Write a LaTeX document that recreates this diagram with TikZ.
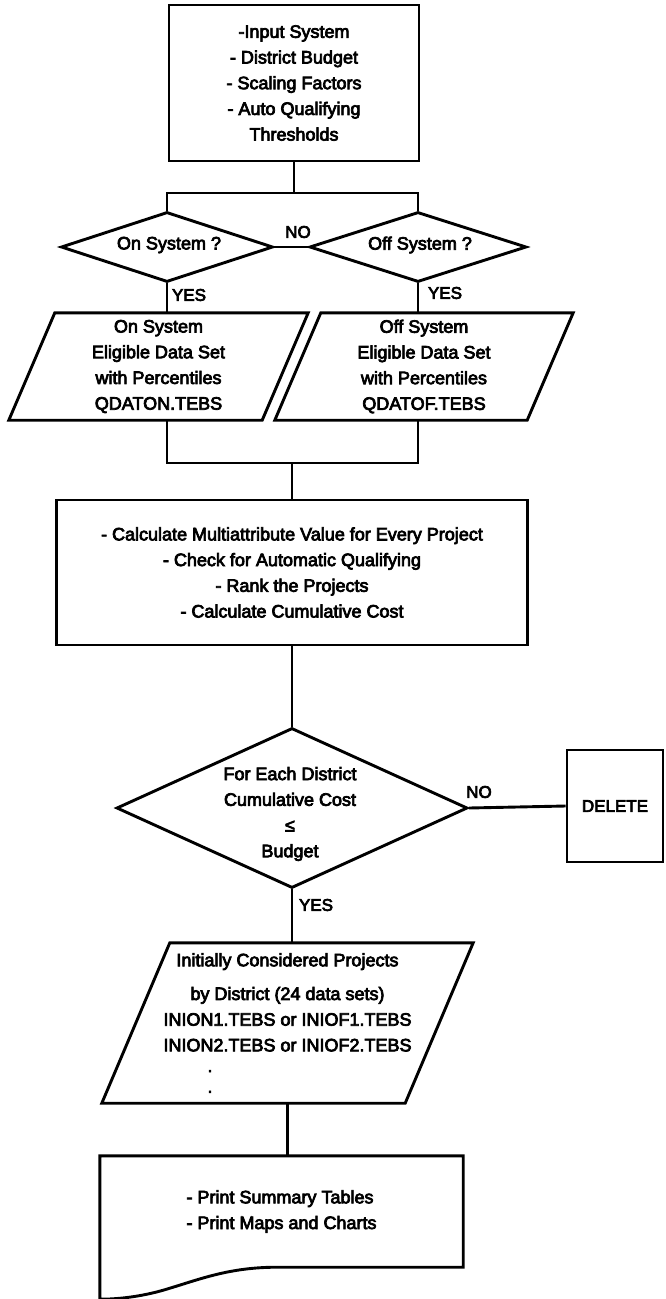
\documentclass[tikz,border=0pt]{standalone}
\usepackage{fontspec}
\setmainfont[FakeBold=4]{Liberation Sans}
\usetikzlibrary{calc,shapes.geometric}
\tikzset{
  wire/.style={draw=black,line width=2.9pt},
  box/.style={rectangle,draw=black,line width=2.9pt,inner sep=0pt,align=center},
  dec/.style={diamond,draw=black,line width=2.9pt,inner sep=0pt},
  io/.style={rectangle,inner sep=0pt,align=center},
  txt/.style={inner sep=0pt,align=center},
  yn/.style={inner sep=0pt,font=\fontsize{17}{17}\selectfont},
}

\begin{document}
\begin{tikzpicture}[x=1pt,y=-1pt,font=\fontsize{18}{25.7}\selectfont,line join=miter]
\useasboundingbox[fill=white] (0,0) rectangle (665,1299);
\node[box,minimum width=250pt,minimum height=156pt] (inp) at (294,83)
  {-Input System\\- District Budget\\- Scaling Factors\\- Auto Qualifying\\Thresholds};
\coordinate (split) at (294,193);
\node[dec,minimum width=212pt,minimum height=70pt] (ondec) at (167,247) {};
\node[dec,minimum width=217pt,minimum height=70pt] (offdec) at (418,247) {};
\node[txt] (ontxt) at (169,245) {On System ?};
\node[txt] (offtxt) at (420,245) {Off System ?};
\node[yn] (no1) at (298,232) {NO};
\node[yn] (yes1) at (189,295) {YES};
\node[yn] (yes2) at (445,293) {YES};
\node[io,minimum width=299pt,minimum height=107pt] (onset) at (158.5,366.5)
  {On System\\Eligible Data Set\\with Percentiles\\QDATON.TEBS};
\node[io,minimum width=298pt,minimum height=107pt] (offset) at (424,366.5)
  {Off System\\Eligible Data Set\\with Percentiles\\QDATOF.TEBS};
\coordinate (join) at (292,463);
\node[box,minimum width=471pt,minimum height=145pt] (calc) at (292,572.5)
  {- Calculate Multiattribute Value for Every Project\\- Check for Automatic Qualifying\\- Rank the Projects\\- Calculate Cumulative Cost};
\node[dec,minimum width=351pt,minimum height=160pt] (budget) at (292,808) {};
\node[txt] (budgettxt) at (290,814) {For Each District\\Cumulative Cost\\≤\\Budget};
\node[box,minimum width=96pt,minimum height=112pt,font=\fontsize{17}{17}\selectfont] (delete) at (615,806) {DELETE};
\node[yn] (no2) at (479,792) {NO};
\node[yn] (yes3) at (316,905) {YES};
\node[io,minimum width=371pt,minimum height=160pt] (init) at (287.5,1023)
  {Initially Considered Projects\\[8pt]by District (24 data sets)\\INION1.TEBS or INIOF1.TEBS\\INION2.TEBS or INIOF2.TEBS\\[-5pt]\makebox[160pt][l]{.}\\[-5pt]\makebox[160pt][l]{.}};
\node[io,minimum width=363pt,minimum height=111pt,align=left] (print) at (281.5,1211.5)
  {- Print Summary Tables\\- Print Maps and Charts};
\foreach \n/\s in {onset/46,offset/46,init/68}
  \draw[wire] ($(\n.north west)+(\s,0)$) -- (\n.north east) -- ($(\n.south east)-(\s,0)$) -- (\n.south west) -- cycle;
\draw[wire] ($(print.south west)+(0,32)$) -- (print.north west) -- (print.north east) -- (print.south east)
  -- ($(print.south west)+(177,0)$) .. controls ($(print.south west)+(130,0)$) and ($(print.south west)+(100,12)$) .. ($(print.south west)+(70,21)$)
  .. controls ($(print.south west)+(45,29)$) and ($(print.south west)+(20,32)$) .. ($(print.south west)+(0,32)$);
\draw[wire] (inp.south) -- (split);
\draw[wire] (ondec.north) |- (split) -| (offdec.north);
\draw[wire] (ondec.east) -- (offdec.west);
\draw[wire] (ondec.south) -- (ondec.south |- onset.north);
\draw[wire] (offdec.south) -- (offdec.south |- offset.north);
\draw[wire] (ondec.south |- onset.south) |- (join) -| (offdec.south |- offset.south);
\draw[wire] (join) -- (calc.north);
\draw[wire] (calc.south) -- (budget.north);
\draw[wire] (budget.east) -- (delete.west);
\draw[wire] (budget.south) -- (budget.south |- init.north);
\draw[wire] (init.south) -- (init.south |- print.north);
\end{tikzpicture}
\end{document}
